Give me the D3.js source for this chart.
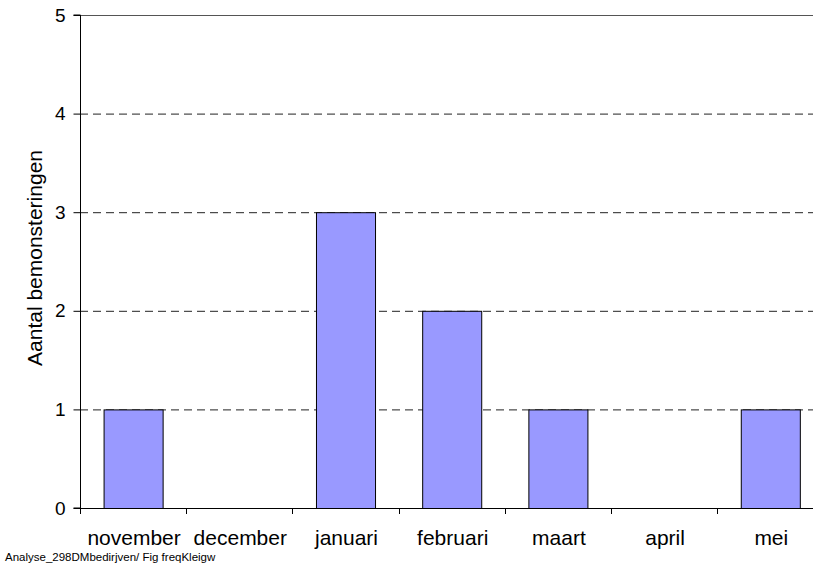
<!DOCTYPE html>
<html>
<head>
<meta charset="utf-8" />
<script src="https://d3js.org/d3.v7.min.js"></script>
<style>
  body { margin: 0; background: #fff; }
  text { font-family: "Liberation Sans", Arial, sans-serif; }
</style>
</head>
<body>
<div id="chart"></div>
<script>
// data
var months = ["november", "december", "januari", "februari", "maart", "april", "mei"];
var counts = [1, 0, 3, 2, 1, 0, 1];
var yTicks = [0, 1, 2, 3, 4, 5];

var W = 813, H = 565;
var plotLeft = 80, plotTop = 15, plotBottom = 508;
var step = 106.2;
var plotRight = plotLeft + step * months.length;

var svg = d3.select("#chart").append("svg")
    .attr("width", W)
    .attr("height", H);

var x = d3.scaleBand()
    .domain(months)
    .range([plotLeft, plotRight])
    .paddingInner(0.444)
    .paddingOuter(0.222);

var y = d3.scaleLinear()
    .domain([0, 5])
    .range([plotBottom, plotTop]);

// gridlines
svg.selectAll("line.grid")
  .data(yTicks.filter(function(d) { return d > 0 && d < 5; }))
  .enter().append("line")
    .attr("class", "grid")
    .attr("x1", plotLeft).attr("x2", W)
    .attr("y1", function(d) { return y(d) + 0.5; })
    .attr("y2", function(d) { return y(d) + 0.5; })
    .attr("stroke", "#222")
    .attr("stroke-dasharray", "8,5");

// top line
svg.append("line")
    .attr("x1", plotLeft).attr("x2", W)
    .attr("y1", y(5) + 0.5).attr("y2", y(5) + 0.5)
    .attr("stroke", "#555");

// bars
svg.selectAll("rect.bar")
  .data(months)
  .enter().append("rect")
    .attr("class", "bar")
    .attr("x", function(d) { return x(d) + 0.5; })
    .attr("y", function(d, i) { return y(counts[i]) + 0.5; })
    .attr("width", x.bandwidth())
    .attr("height", function(d, i) { return y(0) - y(counts[i]); })
    .attr("fill", "#9999ff")
    .attr("stroke", function(d, i) { return counts[i] > 0 ? "#000" : "none"; });

// y axis
var yAxis = svg.append("g")
    .attr("transform", "translate(" + (plotLeft + 0.5) + ",0)")
    .call(d3.axisLeft(y).tickValues(yTicks).tickSize(7).tickPadding(8).tickFormat(d3.format("d")));
yAxis.select(".domain").attr("stroke", "#000").attr("d", "M-7," + plotTop + "H0V" + plotBottom + "H-7");
yAxis.selectAll("text").attr("font-size", 19).attr("fill", "#000")
    .style("font-family", "'Liberation Sans', Arial, sans-serif");
yAxis.selectAll("line").attr("stroke", "#000");

// x axis baseline with boundary ticks
svg.append("line")
    .attr("x1", plotLeft).attr("x2", W)
    .attr("y1", plotBottom + 0.5).attr("y2", plotBottom + 0.5)
    .attr("stroke", "#000");

var bounds = d3.range(months.length + 1).map(function(i) { return plotLeft + i * step; });
svg.selectAll("line.xtick")
  .data(bounds)
  .enter().append("line")
    .attr("class", "xtick")
    .attr("x1", function(d) { return Math.round(d) + 0.5; })
    .attr("x2", function(d) { return Math.round(d) + 0.5; })
    .attr("y1", plotBottom).attr("y2", plotBottom + 6)
    .attr("stroke", "#000");

svg.selectAll("text.xlab")
  .data(months)
  .enter().append("text")
    .attr("class", "xlab")
    .attr("x", function(d) { return x(d) + x.bandwidth() / 2 + 1; })
    .attr("y", 545)
    .attr("text-anchor", "middle")
    .attr("font-size", 21)
    .text(function(d) { return d; });

// y title
svg.append("text")
    .attr("transform", "translate(42,258) rotate(-90)")
    .attr("text-anchor", "middle")
    .attr("font-size", 21)
    .text("Aantal bemonsteringen");

// footer
svg.append("text")
    .attr("x", 5)
    .attr("y", 561)
    .attr("font-size", 11.5)
    .text("Analyse_298DMbedirjven/ Fig freqKleigw");
</script>
</body>
</html>
